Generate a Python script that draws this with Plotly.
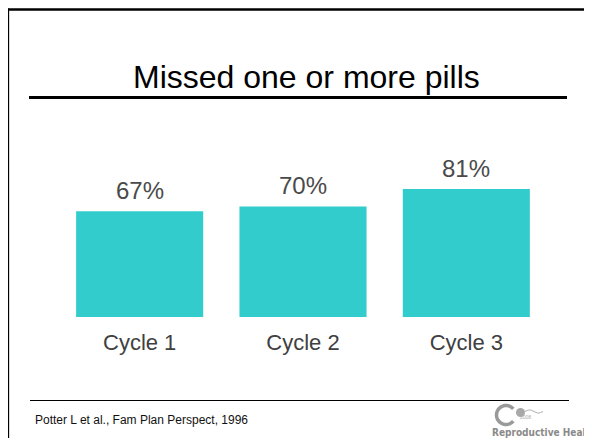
import math
import plotly.graph_objects as go

# data
cycles = ["Cycle 1", "Cycle 2", "Cycle 3"]
missed_pct = [67, 70, 81]
pct_labels = ["67%", "70%", "81%"]

title = "Missed one or more pills"
source = "Potter L et al., Fam Plan Perspect, 1996"

FONT = "Arial, Liberation Sans, sans-serif"
OFF = 8  # page body margin
W, H = 592 - OFF, 446 - 2 * OFF
ML, MT = 58 - OFF, 159 - OFF
PW, PH = 490, 158
MR, MB = W - ML - PW, H - MT - PH


def px(x):
    """screen pixel x -> paper x"""
    return (x - OFF - ML) / PW


def py(y):
    """screen pixel y -> paper y"""
    return 1 - (y - OFF - MT) / PH


fig = go.Figure()

fig.add_trace(go.Bar(
    x=cycles,
    y=missed_pct,
    marker=dict(color="#33CCCC", line=dict(width=0)),
    hoverinfo="skip",
))

# value labels above the bars
for c, v, t in zip(cycles, missed_pct, pct_labels):
    fig.add_annotation(
        x=c, y=v, xref="x", yref="y", text=t, showarrow=False,
        yanchor="middle", yshift=21,
        font=dict(family=FONT, size=24, color="#4a4a4a"),
    )

# slide title + source
fig.add_annotation(
    x=px(306), y=py(77), xref="paper", yref="paper", text=title,
    showarrow=False, xanchor="center", yanchor="middle",
    font=dict(family=FONT, size=32, color="black"),
)
fig.add_annotation(
    x=px(33), y=py(420), xref="paper", yref="paper", text=source,
    showarrow=False, xanchor="left", yanchor="middle",
    font=dict(family=FONT, size=12, color="#111111"),
)

shapes = [
    # slide frame: only the top and left edges show
    dict(type="line", x0=px(6.7), x1=px(620), y0=py(9.6), y1=py(9.6),
         line=dict(color="black", width=2.5)),
    dict(type="line", x0=px(7.9), x1=px(7.9), y0=py(8.4), y1=py(480),
         line=dict(color="black", width=2.5)),
    # line under title
    dict(type="line", x0=px(29), x1=px(567), y0=py(97.5), y1=py(97.5),
         line=dict(color="black", width=3)),
    # footer line
    dict(type="line", x0=px(30), x1=px(569), y0=py(400.5), y1=py(400.5),
         line=dict(color="black", width=1)),
]

# logo: open ring, dot and tail
cx, cy, r = 506, 415, 9.5
pts = []
for k in range(0, 41):
    a = math.radians(40 + k * 280 / 40)
    pts.append((px(cx + r * math.cos(a)), py(cy - r * math.sin(a))))
shapes.append(dict(type="path",
                   path="M " + " L ".join(f"{a:.5f},{b:.5f}" for a, b in pts),
                   line=dict(color="#9a9a9a", width=3.5)))
shapes.append(dict(type="circle", x0=px(516), x1=px(525), y0=py(408), y1=py(417),
                   fillcolor="#a8a8a8", line=dict(width=0)))
wave = []
for k in range(0, 21):
    xx = 525 + k * 18 / 20
    yy = 411.5 - 1.5 * math.sin(k / 20 * 2 * math.pi)
    wave.append((px(xx), py(yy)))
shapes.append(dict(type="path",
                   path="M " + " L ".join(f"{a:.5f},{b:.5f}" for a, b in wave),
                   line=dict(color="#a8a8a8", width=1)))
for s in shapes:
    s["xref"] = "paper"
    s["yref"] = "paper"
    s["layer"] = "above"

fig.add_annotation(
    x=px(533), y=py(421.5), xref="paper", yref="paper", text="2008",
    showarrow=False, font=dict(family=FONT, size=5, color="#aaaaaa"),
)
fig.add_annotation(
    x=px(490), y=py(432.5), xref="paper", yref="paper", text="<b>Reproductive Health</b>",
    showarrow=False, xanchor="left", yanchor="middle",
    font=dict(family="DejaVu Sans Condensed, DejaVu Sans", size=10, color="#8a8a8a"),
)

fig.update_layout(
    width=W, height=H,
    margin=dict(l=ML, r=MR, t=MT, b=MB),
    paper_bgcolor="white", plot_bgcolor="white",
    showlegend=False,
    bargap=0.222,
    shapes=shapes,
    xaxis=dict(showline=False, showgrid=False, zeroline=False, ticks="",
               tickfont=dict(family=FONT, size=22, color="#404040"),
               ticklabelstandoff=10),
    yaxis=dict(range=[0, 100], visible=False, showgrid=False, zeroline=False),
)

fig.write_html("out.html", config={"displayModeBar": False})
